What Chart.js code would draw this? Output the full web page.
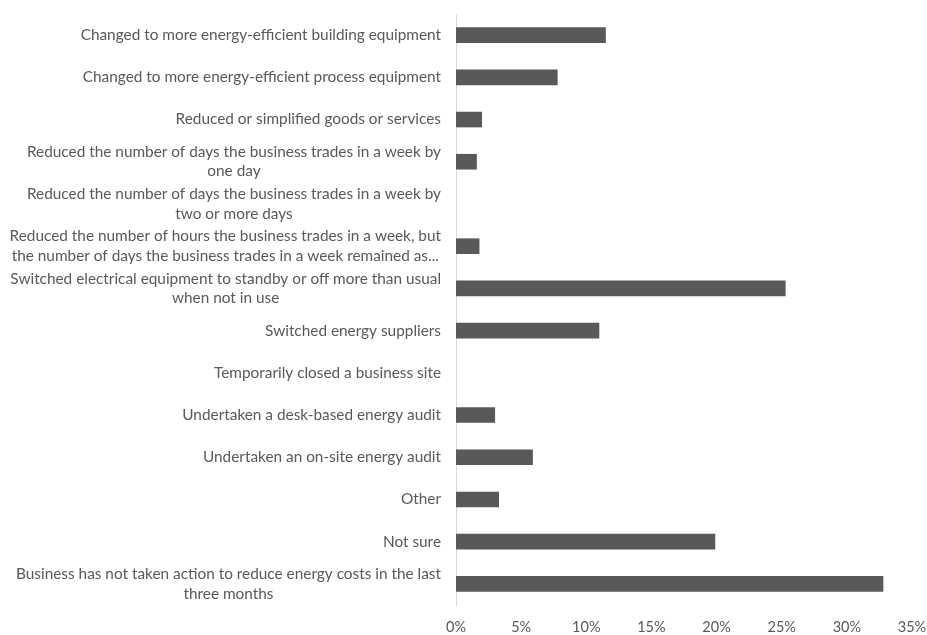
<!DOCTYPE html>
<html>
<head>
<meta charset="utf-8">
<script src="https://cdn.jsdelivr.net/npm/chart.js@4/dist/chart.umd.min.js"></script>
<style>
html,body{margin:0;padding:0;background:#fff;}
#wrap{width:927px;height:635px;position:relative;}
</style>
</head>
<body>
<div id="wrap"><canvas id="c" width="927" height="635"></canvas></div>
<script>
const categories = [
  ["Changed to more energy-efficient building equipment"],
  ["Changed to more energy-efficient process equipment"],
  ["Reduced or simplified goods or services"],
  ["Reduced the number of days the business trades in a week by", "one day"],
  ["Reduced the number of days the business trades in a week by", "two or more days"],
  ["Reduced the number of hours the business trades in a week, but", "the number of days the business trades in a week remained as..."],
  ["Switched electrical equipment to standby or off more than usual", "when not in use"],
  ["Switched energy suppliers"],
  ["Temporarily closed a business site"],
  ["Undertaken a desk-based energy audit"],
  ["Undertaken an on-site energy audit"],
  ["Other"],
  ["Not sure"],
  ["Business has not taken action to reduce energy costs in the last", "three months"]
];
const values = [11.5, 7.8, 2.0, 1.6, 0, 1.8, 25.3, 11.0, 0, 3.0, 5.9, 3.3, 19.9, 32.8];
const xTicks = [0, 5, 10, 15, 20, 25, 30, 35];

const FONT_FAMILY = "Lato, 'Open Sans', sans-serif";
const TEXT_COLOR = "#595959";

// pick a font size so the widest label line matches the reference width
const mctx = document.createElement('canvas').getContext('2d');
mctx.font = "100px " + FONT_FAMILY;
const refW = mctx.measureText("Switched electrical equipment to standby or off more than usual").width;
const FONT_SIZE = Math.min(16.5, 431 / refW * 100);

const labelPlugin = {
  id: 'centeredLabels',
  afterDraw(chart) {
    const ctx = chart.ctx;
    const y = chart.scales.y;
    ctx.save();
    ctx.font = FONT_SIZE + "px " + FONT_FAMILY;
    ctx.fillStyle = TEXT_COLOR;
    ctx.textAlign = 'center';
    ctx.textBaseline = 'middle';
    const rightEdge = y.right - 15;
    const lineH = 19.5;
    categories.forEach((lines, i) => {
      const py = y.getPixelForTick(i);
      let w = 0;
      lines.forEach(l => { w = Math.max(w, ctx.measureText(l).width); });
      const cx = rightEdge - w / 2;
      const startY = py - (lines.length - 1) * lineH / 2;
      lines.forEach((l, k) => ctx.fillText(l, cx, startY + k * lineH));
    });
    ctx.restore();
  }
};

new Chart(document.getElementById('c'), {
  type: 'bar',
  data: {
    labels: categories,
    datasets: [{
      data: values,
      backgroundColor: '#595959',
      borderWidth: 0,
      barPercentage: 0.37,
      categoryPercentage: 1.0
    }]
  },
  options: {
    indexAxis: 'y',
    responsive: false,
    animation: false,
    devicePixelRatio: 1,
    layout: { padding: { top: 14, right: 0, left: 0, bottom: 0 } },
    plugins: { legend: { display: false }, tooltip: { enabled: false } },
    scales: {
      x: {
        min: 0, max: 35,
        afterBuildTicks(scale) { scale.ticks = xTicks.map(v => ({ value: v })); },
        grid: { display: false, drawTicks: false },
        border: { display: false },
        ticks: {
          color: TEXT_COLOR,
          font: { family: FONT_FAMILY, size: 14.5 },
          padding: 14,
          maxRotation: 0,
          callback: v => v + '%'
        },
        afterFit(scale) { scale.height = 30; scale.paddingRight = 15; scale.paddingLeft = 0; }
      },
      y: {
        grid: { display: false, drawTicks: false },
        border: { display: true, color: '#d9d9d9', width: 1 },
        ticks: { display: false },
        afterFit(scale) { scale.width = 456; }
      }
    }
  },
  plugins: [labelPlugin]
});
</script>
</body>
</html>
